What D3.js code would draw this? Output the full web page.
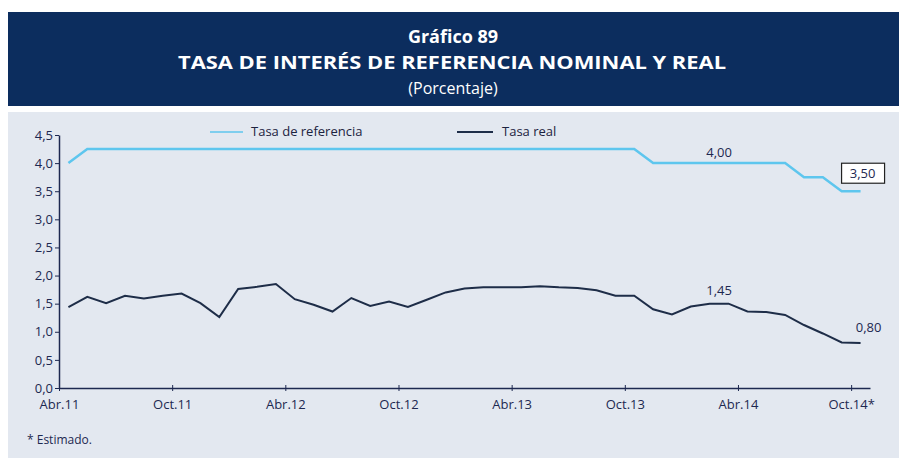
<!DOCTYPE html>
<html>
<head>
<meta charset="utf-8">
<script src="https://cdn.jsdelivr.net/npm/d3@7"></script>
<style>
  body { margin: 0; background: #fff; }
  svg text { font-family: "Open Sans", "Noto Sans", sans-serif; }
</style>
</head>
<body>
<script>
// months Abr.11 .. Oct.14
var months = ["Abr.11","May.11","Jun.11","Jul.11","Ago.11","Set.11","Oct.11","Nov.11","Dic.11",
  "Ene.12","Feb.12","Mar.12","Abr.12","May.12","Jun.12","Jul.12","Ago.12","Set.12","Oct.12","Nov.12","Dic.12",
  "Ene.13","Feb.13","Mar.13","Abr.13","May.13","Jun.13","Jul.13","Ago.13","Set.13","Oct.13","Nov.13","Dic.13",
  "Ene.14","Feb.14","Mar.14","Abr.14","May.14","Jun.14","Jul.14","Ago.14","Set.14","Oct.14"];

var tickIdx = [0, 6, 12, 18, 24, 30, 36, 42];
var tickLabels = ["Abr.11","Oct.11","Abr.12","Oct.12","Abr.13","Oct.13","Abr.14","Oct.14*"];

var refRate = [4.00,
  4.25,4.25,4.25,4.25,4.25,4.25,4.25,4.25,4.25,4.25,
  4.25,4.25,4.25,4.25,4.25,4.25,4.25,4.25,4.25,4.25,
  4.25,4.25,4.25,4.25,4.25,4.25,4.25,4.25,4.25,4.25,
  4.00,4.00,4.00,4.00,4.00,4.00,4.00,4.00,
  3.75,3.75,3.50,3.50];

var realRate = [1.44,1.62,1.51,1.64,1.59,1.64,1.68,1.51,1.26,1.76,1.80,1.85,1.58,1.48,1.36,1.60,
  1.46,1.54,1.44,1.57,1.70,1.77,1.79,1.79,1.79,1.81,1.79,1.78,1.74,1.64,1.64,1.40,1.31,1.45,
  1.50,1.50,1.36,1.35,1.30,1.12,0.97,0.81,0.80];

var yTicks = [0,0.5,1,1.5,2,2.5,3,3.5,4,4.5];

var W = 902, H = 473;
var svg = d3.select("body").append("svg").attr("width", W).attr("height", H);

// header box
svg.append("rect").attr("x", 8).attr("y", 12).attr("width", 891).attr("height", 94).attr("fill", "#0c2d5e");
var title = svg.append("g").attr("fill", "#fff").attr("text-anchor", "middle");
title.append("text").attr("x", 453).attr("y", 43).attr("font-size", 18).attr("font-weight", "bold").text("Gráfico 89");
title.append("text").attr("x", 452).attr("y", 69).attr("font-size", 18).attr("font-weight", "bold")
  .attr("textLength", 548).attr("lengthAdjust", "spacingAndGlyphs")
  .text("TASA DE INTERÉS DE REFERENCIA NOMINAL Y REAL");
title.append("text").attr("x", 453).attr("y", 94).attr("font-size", 16).text("(Porcentaje)");

// chart panel
svg.append("rect").attr("x", 8).attr("y", 112).attr("width", 891).attr("height", 346).attr("fill", "#e3e8f0");

//Set the ranges
var x = d3.scaleLinear().domain([0, months.length]).range([59, 870]);
var y = d3.scaleLinear().domain([0, 4.5]).range([388, 135]);
var px = function(i) { return x(i + 0.5); };

var ink = "#1d2850";

//Add the Y axis
var gy = svg.append("g").attr("transform", "translate(59,0)")
  .call(d3.axisLeft(y).tickValues(yTicks).tickSize(4).tickSizeOuter(0)
    .tickFormat(function(d) { return d3.format(".1f")(d).replace(".", ","); }));
gy.select(".domain").attr("stroke", ink).attr("stroke-width", 1.5);
gy.selectAll(".tick line").attr("stroke", ink);
gy.selectAll(".tick text").attr("fill", ink).attr("font-size", 13).attr("x", -6);

//Add the X Axis
var gx = svg.append("g").attr("transform", "translate(0,388)")
  .call(d3.axisBottom(x).tickValues(tickIdx).tickSize(3).tickSizeOuter(0)
    .tickFormat(function(d, i) { return tickLabels[i]; }));
gx.select(".domain").attr("stroke", ink).attr("stroke-width", 1.5);
gx.selectAll(".tick line").attr("stroke", ink).attr("y1", -3).attr("y2", 3);
gx.selectAll(".tick text").attr("fill", ink).attr("font-size", 13).attr("y", 12);

// lines
var valueline = d3.line().x(function(d, i) { return px(i); }).y(function(d) { return y(d); });

svg.append("path").datum(refRate).attr("d", valueline)
  .attr("fill", "none").attr("stroke", "#5ec6ee").attr("stroke-width", 2.5);
svg.append("path").datum(realRate).attr("d", valueline)
  .attr("fill", "none").attr("stroke", "#1e2d48").attr("stroke-width", 2);

// legend
var leg = svg.append("g").attr("font-size", 13).attr("fill", "#1c2340");
leg.append("line").attr("x1", 210).attr("x2", 243).attr("y1", 132).attr("y2", 132)
  .attr("stroke", "#5ec6ee").attr("stroke-width", 1.5);
leg.append("text").attr("x", 251).attr("y", 136).text("Tasa de referencia");
leg.append("line").attr("x1", 457).attr("x2", 493).attr("y1", 132).attr("y2", 132)
  .attr("stroke", "#1e2d48").attr("stroke-width", 2);
leg.append("text").attr("x", 502).attr("y", 136).text("Tasa real");

// value labels
var last = px(42) + 2;
svg.append("rect").attr("x", last - 21).attr("y", y(refRate[42]) - 28).attr("width", 43).attr("height", 20)
  .attr("fill", "#fff").attr("stroke", "#222").attr("stroke-width", 1.2);
var lab = svg.append("g").attr("font-size", 13).attr("fill", ink).attr("text-anchor", "middle");
lab.append("text").attr("x", x(35)).attr("y", y(refRate[35]) - 6).text("4,00");
lab.append("text").attr("x", x(35)).attr("y", y(realRate[35]) - 9).text("1,45");
lab.append("text").attr("x", px(42) + 8).attr("y", y(realRate[42]) - 11).text("0,80");
lab.append("text").attr("x", last).attr("y", y(refRate[42]) - 13).text("3,50");

// footnote
svg.append("text").attr("x", 27).attr("y", 444).attr("font-size", 12).attr("fill", ink).text("* Estimado.");
</script>
</body>
</html>
